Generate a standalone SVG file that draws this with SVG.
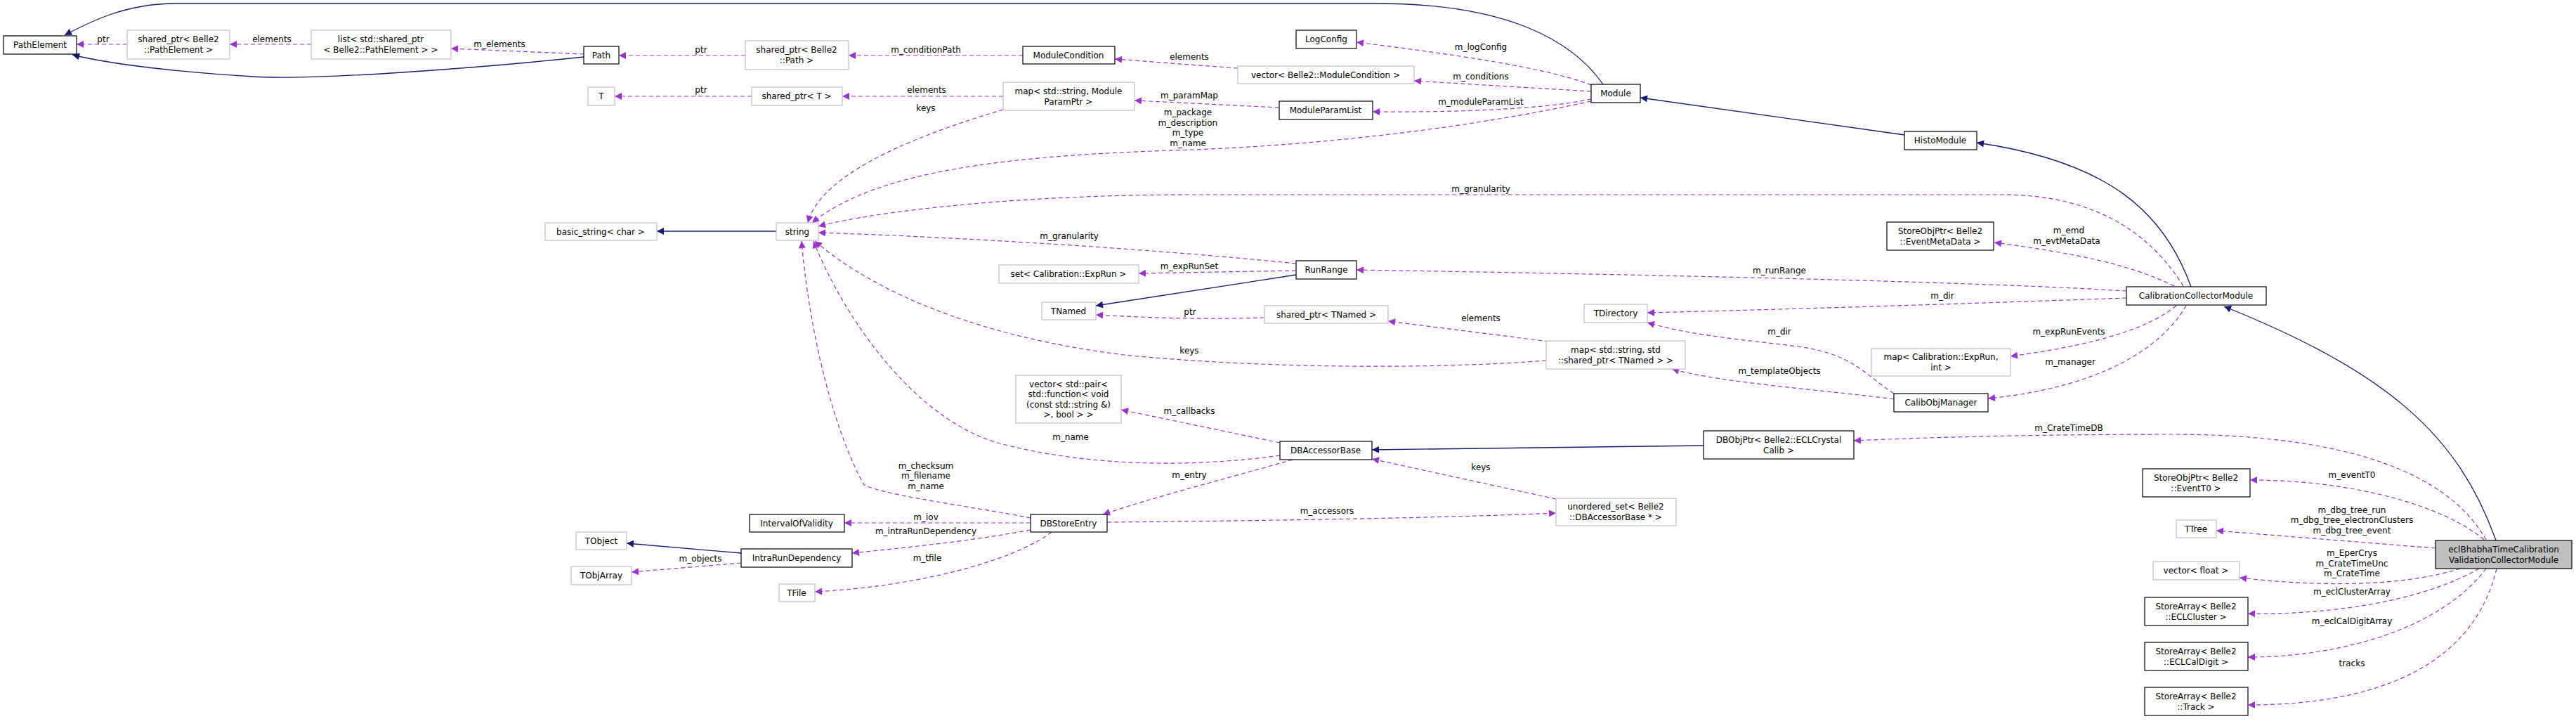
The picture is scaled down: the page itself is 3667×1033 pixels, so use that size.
<svg xmlns="http://www.w3.org/2000/svg" width="3667" height="1033" viewBox="0 0 3667 1033">
<style>
text{font-family:"DejaVu Sans","Liberation Sans",sans-serif;font-size:12px;fill:#000}
.n text{text-anchor:middle}
.d rect{fill:#fff;stroke:#000;stroke-width:1.2}
.u rect{fill:#fff;stroke:#bfbfbf;stroke-width:1.2}
.g rect{fill:#bfbfbf;stroke:#000;stroke-width:1.2}
.e path{fill:none}
.p{stroke:#9a32cd;stroke-dasharray:6,4;stroke-width:1.2;marker-end:url(#ap)}
.i{stroke:#191970;stroke-width:1.3;marker-end:url(#ai)}
.l{text-anchor:middle}
</style>
<defs>
<marker id="ap" viewBox="0 0 10 10" refX="10" refY="5" markerWidth="12" markerHeight="10" markerUnits="userSpaceOnUse" orient="auto"><path d="M0,0L10,5L0,10z" fill="#9a32cd"/></marker>
<marker id="ai" viewBox="0 0 10 10" refX="10" refY="5" markerWidth="12" markerHeight="10" markerUnits="userSpaceOnUse" orient="auto"><path d="M0,0L10,5L0,10z" fill="#191970"/></marker>
</defs>
<rect width="3667" height="1033" fill="#fff"/>
<g id="edges" class="e">
<path class="i" d="M2282,120 C2240,60 2150,5 1960,5 L250,5 C180,5 130,30 92,50"/>
<path class="i" d="M831,81 C700,95 450,115 360,109 C260,103 160,92 103,78"/>
<path class="p" d="M181,63 L109,63"/>
<path class="p" d="M443,63 L327,63"/>
<path class="p" d="M831,77 L642,69"/>
<path class="p" d="M1061,79 L881,79"/>
<path class="p" d="M1456,79 L1208,79"/>
<path class="p" d="M1762,97 L1587,84"/>
<path class="p" d="M2265,121 C2200,95 2050,75 1931,60"/>
<path class="p" d="M2265,130 L2013,115"/>
<path class="p" d="M2265,141 C2200,155 2080,160 1954,159"/>
<path class="p" d="M1821,153 L1615,143"/>
<path class="p" d="M1428,137 L1199,137"/>
<path class="p" d="M1070,137 L875,137"/>
<path class="p" d="M1428,156 C1330,185 1170,240 1150,317"/>
<path class="p" d="M2265,144 C2100,180 1900,205 1700,213 C1450,220 1250,240 1156,317"/>
<path class="i" d="M1105,329 L935,329"/>
<path class="p" d="M3108,407 C3060,330 2980,277 2850,277 L1700,277 C1450,277 1250,300 1165,322"/>
<path class="p" d="M1845,375 C1600,350 1300,335 1165,331"/>
<path class="p" d="M1845,385 L1621,389"/>
<path class="i" d="M1845,391 L1560,435"/>
<path class="p" d="M1800,452 C1700,455 1640,452 1560,448"/>
<path class="p" d="M2205,486 L1976,457"/>
<path class="p" d="M2201,513 C2050,525 1800,525 1600,505 C1400,480 1250,420 1160,343"/>
<path class="p" d="M3027,414 C2800,400 2300,390 1931,384"/>
<path class="p" d="M3027,424 C2800,432 2550,440 2345,445"/>
<path class="p" d="M2696,560 C2650,530 2640,505 2560,493 C2450,480 2400,475 2345,459"/>
<path class="p" d="M2696,568 C2600,555 2450,545 2380,525"/>
<path class="p" d="M3095,407 C3030,375 2950,360 2839,345"/>
<path class="p" d="M3098,435 C3050,475 2950,495 2862,507"/>
<path class="p" d="M3112,435 C3080,490 3000,550 2830,567"/>
<path class="i" d="M3119,408 C3080,300 3000,230 2814,203"/>
<path class="i" d="M2711,192 L2335,139"/>
<path class="i" d="M3553,769 C3500,620 3400,530 3166,436"/>
<path class="i" d="M2425,634 L1953,640"/>
<path class="p" d="M3539,768 C3500,700 3400,620 3100,618 C2900,618 2750,622 2639,627"/>
<path class="p" d="M3536,768 C3480,720 3350,683 3203,683"/>
<path class="p" d="M3467,780 L3155,755"/>
<path class="p" d="M3502,809 C3420,835 3300,835 3188,822"/>
<path class="p" d="M3529,809 C3440,860 3300,875 3200,873"/>
<path class="p" d="M3539,809 C3470,900 3320,935 3200,935"/>
<path class="p" d="M3554,809 C3520,950 3380,1003 3200,1003"/>
<path class="p" d="M1822,630 L1596,583"/>
<path class="p" d="M1822,648 C1700,665 1550,665 1420,630 C1300,595 1200,450 1158,343"/>
<path class="p" d="M1840,654 C1750,680 1650,705 1570,732"/>
<path class="p" d="M1467,737 C1380,720 1260,705 1230,690 C1180,600 1150,450 1141,343"/>
<path class="p" d="M1467,744 L1202,744"/>
<path class="p" d="M1467,754 C1380,770 1300,778 1213,787"/>
<path class="p" d="M1497,757 C1440,800 1300,835 1160,842"/>
<path class="p" d="M1576,743 C1900,740 2100,735 2215,730"/>
<path class="p" d="M2215,710 L1953,653"/>
<path class="i" d="M1055,787 L892,773"/>
<path class="p" d="M1055,801 L899,814"/>
</g>
<g id="labels">
<text class="l" x="147" y="60">ptr</text>
<text class="l" x="387" y="60">elements</text>
<text class="l" x="711" y="67">m_elements</text>
<text class="l" x="998" y="75">ptr</text>
<text class="l" x="1318" y="75">m_conditionPath</text>
<text class="l" x="1693" y="85">elements</text>
<text class="l" x="998" y="132">ptr</text>
<text class="l" x="1319" y="132">elements</text>
<text class="l" x="1318" y="158">keys</text>
<text class="l" x="1693" y="140">m_paramMap</text>
<text class="l" x="1691" y="164">m_package</text>
<text class="l" x="1691" y="179">m_description</text>
<text class="l" x="1691" y="193">m_type</text>
<text class="l" x="1691" y="208">m_name</text>
<text class="l" x="1522" y="340">m_granularity</text>
<text class="l" x="1693" y="383">m_expRunSet</text>
<text class="l" x="1694" y="448">ptr</text>
<text class="l" x="1693" y="503">keys</text>
<text class="l" x="2108" y="71">m_logConfig</text>
<text class="l" x="2108" y="113">m_conditions</text>
<text class="l" x="2108" y="149">m_moduleParamList</text>
<text class="l" x="2108" y="273">m_granularity</text>
<text class="l" x="2533" y="389">m_runRange</text>
<text class="l" x="2108" y="457">elements</text>
<text class="l" x="2533" y="476">m_dir</text>
<text class="l" x="2945" y="332">m_emd</text>
<text class="l" x="2942" y="347">m_evtMetaData</text>
<text class="l" x="2765" y="425">m_dir</text>
<text class="l" x="2945" y="476">m_expRunEvents</text>
<text class="l" x="2947" y="519">m_manager</text>
<text class="l" x="1693" y="589">m_callbacks</text>
<text class="l" x="1524" y="626">m_name</text>
<text class="l" x="1318" y="667">m_checksum</text>
<text class="l" x="1318" y="681">m_filename</text>
<text class="l" x="1318" y="696">m_name</text>
<text class="l" x="1693" y="680">m_entry</text>
<text class="l" x="1318" y="740">m_iov</text>
<text class="l" x="1318" y="760">m_intraRunDependency</text>
<text class="l" x="997" y="799">m_objects</text>
<text class="l" x="1320" y="798">m_tfile</text>
<text class="l" x="2533" y="532">m_templateObjects</text>
<text class="l" x="2108" y="669">keys</text>
<text class="l" x="1889" y="731">m_accessors</text>
<text class="l" x="2945" y="613">m_CrateTimeDB</text>
<text class="l" x="3348" y="680">m_eventT0</text>
<text class="l" x="3348" y="730">m_dbg_tree_run</text>
<text class="l" x="3348" y="744">m_dbg_tree_electronClusters</text>
<text class="l" x="3348" y="759">m_dbg_tree_event</text>
<text class="l" x="3348" y="791">m_EperCrys</text>
<text class="l" x="3348" y="806">m_CrateTimeUnc</text>
<text class="l" x="3348" y="820">m_CrateTime</text>
<text class="l" x="3348" y="846">m_eclClusterArray</text>
<text class="l" x="3348" y="888">m_eclCalDigitArray</text>
<text class="l" x="3348" y="948">tracks</text>
</g>
<g id="n_PathElement" class="n d"><rect x="5" y="51" width="104" height="26"/><text x="57" y="68">PathElement</text></g>
<g id="n_spPE" class="n u"><rect x="181" y="43" width="146" height="41"/><text x="254" y="60">shared_ptr&lt; Belle2</text><text x="254" y="75">::PathElement &gt;</text></g>
<g id="n_list" class="n u"><rect x="443" y="43" width="199" height="41"/><text x="542" y="60">list&lt; std::shared_ptr</text><text x="542" y="75">&lt; Belle2::PathElement &gt; &gt;</text></g>
<g id="n_Path" class="n d"><rect x="831" y="66" width="50" height="25"/><text x="856" y="83">Path</text></g>
<g id="n_T" class="n u"><rect x="837" y="124" width="38" height="26"/><text x="856" y="141">T</text></g>
<g id="n_basic_string" class="n u"><rect x="776" y="317" width="159" height="25"/><text x="855" y="334">basic_string&lt; char &gt;</text></g>
<g id="n_spPath" class="n u"><rect x="1061" y="58" width="147" height="41"/><text x="1134" y="75">shared_ptr&lt; Belle2</text><text x="1134" y="90">::Path &gt;</text></g>
<g id="n_ModuleCondition" class="n d"><rect x="1456" y="66" width="131" height="25"/><text x="1521" y="83">ModuleCondition</text></g>
<g id="n_vecMC" class="n u"><rect x="1762" y="94" width="251" height="25"/><text x="1887" y="111">vector&lt; Belle2::ModuleCondition &gt;</text></g>
<g id="n_spT" class="n u"><rect x="1070" y="124" width="129" height="26"/><text x="1134" y="141">shared_ptr&lt; T &gt;</text></g>
<g id="n_mapParam" class="n u"><rect x="1428" y="117" width="187" height="40"/><text x="1521" y="134">map&lt; std::string, Module</text><text x="1521" y="149">ParamPtr &gt;</text></g>
<g id="n_string" class="n u"><rect x="1105" y="317" width="60" height="25"/><text x="1135" y="334">string</text></g>
<g id="n_setExpRun" class="n u"><rect x="1422" y="377" width="199" height="26"/><text x="1521" y="394">set&lt; Calibration::ExpRun &gt;</text></g>
<g id="n_TNamed" class="n u"><rect x="1483" y="430" width="77" height="25"/><text x="1521" y="447">TNamed</text></g>
<g id="n_spTNamed" class="n u"><rect x="1800" y="435" width="176" height="25"/><text x="1888" y="452">shared_ptr&lt; TNamed &gt;</text></g>
<g id="n_LogConfig" class="n d"><rect x="1845" y="43" width="86" height="26"/><text x="1888" y="60">LogConfig</text></g>
<g id="n_ModuleParamList" class="n d"><rect x="1821" y="144" width="133" height="26"/><text x="1887" y="161">ModuleParamList</text></g>
<g id="n_Module" class="n d"><rect x="2265" y="120" width="70" height="26"/><text x="2300" y="137">Module</text></g>
<g id="n_RunRange" class="n d"><rect x="1845" y="371" width="86" height="26"/><text x="1888" y="388">RunRange</text></g>
<g id="n_TDirectory" class="n u"><rect x="2255" y="433" width="90" height="26"/><text x="2300" y="450">TDirectory</text></g>
<g id="n_mapTNamed" class="n u"><rect x="2201" y="485" width="198" height="40"/><text x="2300" y="502">map&lt; std::string, std</text><text x="2300" y="517">::shared_ptr&lt; TNamed &gt; &gt;</text></g>
<g id="n_SOPEMD" class="n d"><rect x="2686" y="316" width="152" height="40"/><text x="2762" y="333">StoreObjPtr&lt; Belle2</text><text x="2762" y="348">::EventMetaData &gt;</text></g>
<g id="n_mapExpRun" class="n u"><rect x="2664" y="496" width="198" height="39"/><text x="2763" y="512">map&lt; Calibration::ExpRun,</text><text x="2763" y="527">int &gt;</text></g>
<g id="n_HistoModule" class="n d"><rect x="2711" y="187" width="103" height="26"/><text x="2762" y="204">HistoModule</text></g>
<g id="n_CCM" class="n d"><rect x="3027" y="408" width="199" height="26"/><text x="3126" y="425">CalibrationCollectorModule</text></g>
<g id="n_TObject" class="n u"><rect x="820" y="757" width="72" height="25"/><text x="856" y="774">TObject</text></g>
<g id="n_TObjArray" class="n u"><rect x="813" y="806" width="86" height="26"/><text x="856" y="823">TObjArray</text></g>
<g id="n_vecPair" class="n u"><rect x="1446" y="534" width="150" height="68"/><text x="1521" y="551">vector&lt; std::pair&lt;</text><text x="1521" y="565">std::function&lt; void</text><text x="1521" y="580">(const std::string &amp;)</text><text x="1521" y="594">&gt;, bool &gt; &gt;</text></g>
<g id="n_IOV" class="n d"><rect x="1067" y="732" width="135" height="25"/><text x="1134" y="749">IntervalOfValidity</text></g>
<g id="n_IRD" class="n d"><rect x="1055" y="781" width="158" height="26"/><text x="1134" y="798">IntraRunDependency</text></g>
<g id="n_TFile" class="n u"><rect x="1109" y="831" width="51" height="25"/><text x="1134" y="848">TFile</text></g>
<g id="n_DBStoreEntry" class="n d"><rect x="1467" y="732" width="109" height="25"/><text x="1521" y="749">DBStoreEntry</text></g>
<g id="n_DBAccessorBase" class="n d"><rect x="1822" y="628" width="131" height="26"/><text x="1887" y="645">DBAccessorBase</text></g>
<g id="n_DBObjPtr" class="n d"><rect x="2425" y="613" width="214" height="40"/><text x="2532" y="630">DBObjPtr&lt; Belle2::ECLCrystal</text><text x="2532" y="645">Calib &gt;</text></g>
<g id="n_uset" class="n u"><rect x="2215" y="709" width="171" height="39"/><text x="2300" y="725">unordered_set&lt; Belle2</text><text x="2300" y="740">::DBAccessorBase * &gt;</text></g>
<g id="n_CalibObjManager" class="n d"><rect x="2696" y="560" width="134" height="26"/><text x="2763" y="577">CalibObjManager</text></g>
<g id="n_SOPT0" class="n d"><rect x="3050" y="667" width="153" height="40"/><text x="3126" y="684">StoreObjPtr&lt; Belle2</text><text x="3126" y="699">::EventT0 &gt;</text></g>
<g id="n_TTree" class="n u"><rect x="3098" y="740" width="57" height="25"/><text x="3126" y="757">TTree</text></g>
<g id="n_vecFloat" class="n u"><rect x="3065" y="799" width="123" height="26"/><text x="3126" y="816">vector&lt; float &gt;</text></g>
<g id="n_SAcluster" class="n d"><rect x="3053" y="850" width="147" height="40"/><text x="3126" y="867">StoreArray&lt; Belle2</text><text x="3126" y="882">::ECLCluster &gt;</text></g>
<g id="n_SAdigit" class="n d"><rect x="3053" y="914" width="147" height="40"/><text x="3126" y="931">StoreArray&lt; Belle2</text><text x="3126" y="946">::ECLCalDigit &gt;</text></g>
<g id="n_SAtrack" class="n d"><rect x="3053" y="978" width="147" height="40"/><text x="3126" y="995">StoreArray&lt; Belle2</text><text x="3126" y="1010">::Track &gt;</text></g>
<g id="n_ecl" class="n g"><rect x="3467" y="769" width="194" height="40"/><text x="3564" y="786">eclBhabhaTimeCalibration</text><text x="3564" y="801">ValidationCollectorModule</text></g>
</svg>
